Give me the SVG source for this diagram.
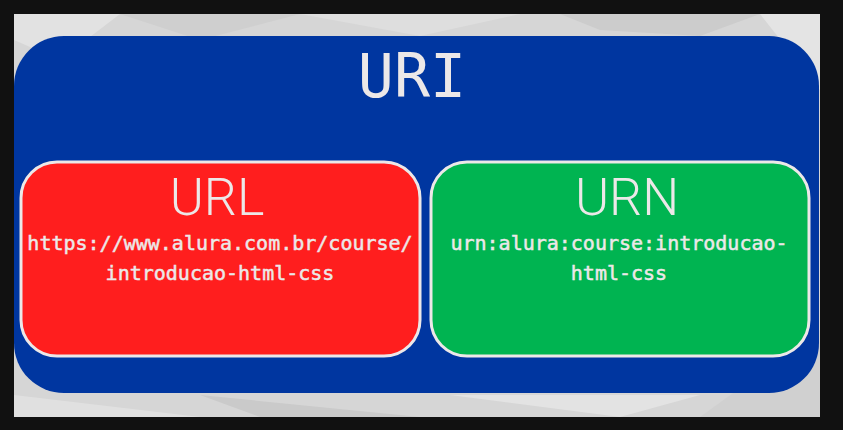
<svg xmlns="http://www.w3.org/2000/svg" width="843" height="430" viewBox="0 0 843 430">
  <style>
    .title { font-family: "DejaVu Sans Mono", "Liberation Mono", monospace; font-size: 60px; fill: #ECE8E8; text-anchor: middle; }
    .head { font-family: Roboto, "Open Sans", sans-serif; font-weight: 300; font-size: 52px; fill: #ECE8E8; text-anchor: middle; }
    .mono { font-family: "DejaVu Sans Mono", "Liberation Mono", monospace; font-size: 20px; fill: #ECE8E8; stroke: #ECE8E8; stroke-width: 0.5; text-anchor: middle; }
    .box { stroke: #ECE8E8; stroke-width: 3; }
  </style>
  <rect x="0" y="0" width="843" height="430" fill="#111111"/>
  <g id="paper">
    <rect x="14" y="14" width="806" height="403" fill="#d6d6d6"/>
    <polygon points="14,14 120,14 60,60 14,40" fill="#e2e2e2"/>
    <polygon points="120,14 300,14 200,40" fill="#cfcfcf"/>
    <polygon points="300,14 520,14 420,36" fill="#dedede"/>
    <polygon points="560,14 760,14 700,36 600,30" fill="#cccccc"/>
    <polygon points="760,14 820,14 820,90" fill="#e4e4e4"/>
    <polygon points="14,395 200,417 14,417" fill="#e0e0e0"/>
    <polygon points="200,395 420,417 260,417" fill="#cacaca"/>
    <polygon points="450,395 700,395 620,417" fill="#e3e3e3"/>
    <polygon points="700,417 820,330 820,417" fill="#d0d0d0"/>
  </g>
  <g id="uri">
    <rect x="14" y="36" width="805" height="357" rx="50" ry="50" fill="#0036A0"/>
    <text class="title" x="412" y="97">URI</text>
  </g>
  <g id="url">
    <rect class="box" x="21" y="162" width="399" height="194" rx="36" ry="36" fill="#FF1E1E"/>
    <text class="head" x="217" y="215">URL</text>
    <text class="mono" x="220" y="250">https://www.alura.com.br/course/</text>
    <text class="mono" x="220" y="280">introducao-html-css</text>
  </g>
  <g id="urn">
    <rect class="box" x="431" y="162" width="378" height="194" rx="36" ry="36" fill="#00B451"/>
    <text class="head" x="627" y="215">URN</text>
    <text class="mono" x="619" y="250">urn:alura:course:introducao-</text>
    <text class="mono" x="619" y="280">html-css</text>
  </g>
  <g id="connectors"/>
</svg>
